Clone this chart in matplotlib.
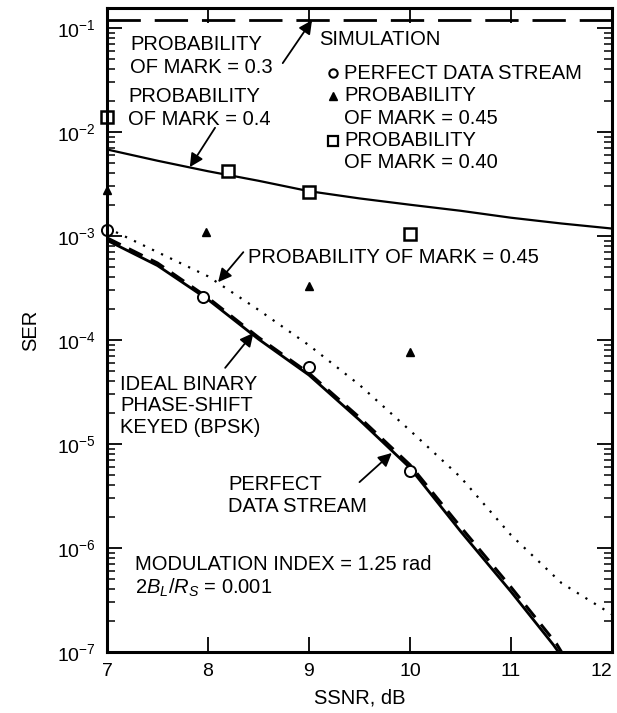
import matplotlib
matplotlib.use("Agg")
import matplotlib.pyplot as plt
from matplotlib.ticker import LogLocator, NullFormatter

plt.rcParams["font.family"] = ["Liberation Sans", "DejaVu Sans"]
plt.rcParams["mathtext.fontset"] = "custom"
plt.rcParams["mathtext.rm"] = "Liberation Sans"
plt.rcParams["mathtext.it"] = "Liberation Sans:italic"
plt.rcParams["mathtext.bf"] = "Liberation Sans:bold"

# analysis curves
ssnr = [7.0, 7.5, 8.0, 8.5, 9.0, 9.5, 10.0, 10.5, 11.0, 11.42, 11.47]
ser_bpsk = [9.1e-4, 5.2e-4, 2.45e-4, 1.02e-4, 4.6e-5, 1.7e-5, 5.9e-6, 1.45e-6, 3.8e-7, 1.17e-7, 1.0e-7]
ssnr_perfect = [7.0, 7.5, 8.0, 8.5, 9.0, 9.5, 10.0, 10.5, 11.0, 11.45, 11.5]
ser_perfect = [9.6e-4, 5.5e-4, 2.55e-4, 1.06e-4, 4.8e-5, 1.8e-5, 6.3e-6, 1.6e-6, 4.2e-7, 1.2e-7, 1.0e-7]

ssnr_full = [7.0, 7.5, 8.0, 8.5, 9.0, 9.5, 10.0, 10.5, 11.0, 11.5, 12.0]
ser_p045 = [1.2e-3, 7.0e-4, 4.1e-4, 1.95e-4, 8.9e-5, 3.7e-5, 1.35e-5, 4.8e-6, 1.33e-6, 4.6e-7, 2.3e-7]
ser_p040 = [6.8e-3, 5.3e-3, 4.2e-3, 3.4e-3, 2.7e-3, 2.3e-3, 2.0e-3, 1.75e-3, 1.5e-3, 1.32e-3, 1.18e-3]
ser_p030 = [0.12] * len(ssnr_full)

# simulation points
sim_perfect_x = [7.0, 7.95, 9.0, 10.0]
sim_perfect_y = [1.15e-3, 2.6e-4, 5.5e-5, 5.5e-6]
sim_p045_x = [7.0, 7.98, 9.0, 10.0]
sim_p045_y = [2.8e-3, 1.1e-3, 3.3e-4, 7.7e-5]
sim_p040_x = [7.0, 8.2, 9.0, 10.0]
sim_p040_y = [1.4e-2, 4.2e-3, 2.65e-3, 1.05e-3]

fig = plt.figure(figsize=(6.17, 7.13), dpi=100)
ax = fig.add_axes([0.1734, 0.0856, 0.8185, 0.9032])
ax.set_yscale("log")
ax.set_xlim(7, 12)
ax.set_ylim(1e-7, 0.156)

ax.plot(ssnr_full, ser_p030, color="black", lw=2.0, dashes=(12, 5))
ax.plot(ssnr_full, ser_p040, color="black", lw=1.6)
ax.plot(ssnr_full, ser_p045, color="black", lw=1.6, linestyle=(0, (1, 3.5)))
ax.plot(ssnr, ser_bpsk, color="black", lw=2.0)
ax.plot(ssnr_perfect, ser_perfect, color="black", lw=2.2, dashes=(5, 3))

mk = dict(linestyle="none", color="black", clip_on=False)
ax.plot(sim_perfect_x, sim_perfect_y, marker="o", ms=8, mfc="white", mew=1.4, **mk)
ax.plot(sim_p045_x, sim_p045_y, marker="^", ms=6, mfc="black", **mk)
ax.plot(sim_p040_x, sim_p040_y, marker="s", ms=9, mfc="white", mew=1.8, **mk)

fs = 14.5
ls = 1.25
ax.text(7.23, 0.086, "PROBABILITY\nOF MARK = 0.3", fontsize=fs, va="top", linespacing=ls)
ax.text(7.21, 0.0271, "PROBABILITY\nOF MARK = 0.4", fontsize=fs, va="top", linespacing=ls)
ax.text(8.40, 7.7e-4, "PROBABILITY OF MARK = 0.45", fontsize=fs, va="top")
ax.text(7.13, 4.6e-5, "IDEAL BINARY\nPHASE-SHIFT\nKEYED (BPSK)", fontsize=fs,
        va="top", linespacing=1.15)
ax.text(8.20, 5.0e-6, "PERFECT\nDATA STREAM", fontsize=fs, va="top", linespacing=1.15)
ax.text(7.28, 8.6e-7, "MODULATION INDEX = 1.25 rad\n$2B_L/R_S$ = 0.001", fontsize=fs,
        va="top", linespacing=1.15)

arrow = dict(arrowstyle="-|>", color="black", lw=1.3, mutation_scale=20,
             shrinkA=0, shrinkB=0)
ax.annotate("", xy=(9.03, 0.119), xytext=(8.74, 0.046), arrowprops=arrow)
ax.annotate("", xy=(7.82, 4.6e-3), xytext=(8.07, 0.011), arrowprops=arrow)
ax.annotate("", xy=(8.10, 3.6e-4), xytext=(8.35, 7.0e-4), arrowprops=arrow)
ax.annotate("", xy=(8.45, 1.17e-4), xytext=(8.17, 5.4e-5), arrowprops=arrow)
ax.annotate("", xy=(9.82, 8.2e-6), xytext=(9.50, 4.3e-6), arrowprops=arrow)

# simulation key
ax.text(0.421, 0.951, "SIMULATION", transform=ax.transAxes, fontsize=fs, va="center")
key_rows = [0.899, 0.864, 0.829, 0.794, 0.760]
key_text = ["PERFECT DATA STREAM", "PROBABILITY", "OF MARK = 0.45",
            "PROBABILITY", "OF MARK = 0.40"]
for yy, tt in zip(key_rows, key_text):
    ax.text(0.470, yy, tt, transform=ax.transAxes, fontsize=fs, va="center")
ax.plot([0.447], [key_rows[0]], transform=ax.transAxes, marker="o", ms=6,
        mfc="white", mec="black", mew=1.5, linestyle="none")
ax.plot([0.447], [key_rows[1]], transform=ax.transAxes, marker="^", ms=6,
        color="black", linestyle="none")
ax.plot([0.447], [key_rows[3]], transform=ax.transAxes, marker="s", ms=7,
        mfc="white", mec="black", mew=1.6, linestyle="none")

ax.set_xlabel("SSNR, dB", fontsize=fs, labelpad=6)
ax.set_ylabel("SER", fontsize=fs, labelpad=12)
ax.set_xticks([7, 8, 9, 10, 11, 12])
ax.yaxis.set_major_locator(LogLocator(base=10, numticks=12))
ax.yaxis.set_minor_locator(LogLocator(base=10, subs=range(2, 10), numticks=12))
ax.yaxis.set_minor_formatter(NullFormatter())
ax.tick_params(which="both", direction="in", top=True, right=True, labelsize=14)
ax.tick_params(which="major", length=11, width=1.3, pad=8)
ax.tick_params(which="minor", length=6, width=1.1)
ax.get_xticklabels()[-1].set_horizontalalignment("right")
for sp in ax.spines.values():
    sp.set_linewidth(2.2)

fig.savefig("out.png", dpi=100)
